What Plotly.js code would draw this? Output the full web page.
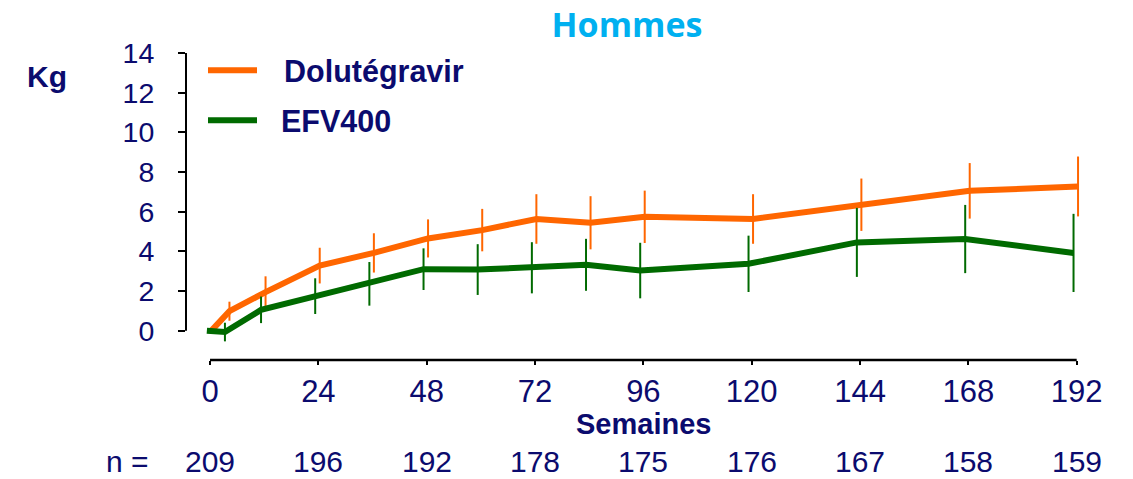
<!DOCTYPE html>
<html>
<head>
<meta charset="utf-8">
<script src="https://cdn.plot.ly/plotly-3.0.1.min.js"></script>
<style>html,body{margin:0;padding:0;background:#fff;}#chart{width:1133px;height:479px;}</style>
</head>
<body>
<div id="chart"></div>
<script>
// ---- data ----
const weeks = [0, 4, 12, 24, 36, 48, 60, 72, 84, 96, 120, 144, 168, 192];
const dtgValues = [0, 0.98, 1.94, 3.28, 3.92, 4.65, 5.07, 5.63, 5.44, 5.74, 5.63, 6.35, 7.05, 7.27];
const dtgErrors = [null, 0.48, 0.80, 0.90, 0.99, 0.96, 1.07, 1.25, 1.34, 1.32, 1.25, 1.32, 1.40, 1.51];
const efvValues = [0, -0.07, 1.05, 1.74, 2.36, 3.10, 3.08, 3.17, 3.32, 3.03, 3.37, 4.45, 4.62, 3.92];
const efvErrors = [null, 0.47, 0.67, 0.90, 1.10, 1.05, 1.28, 1.29, 1.31, 1.40, 1.42, 1.74, 1.72, 1.97];
const xTicks = [0, 24, 48, 72, 96, 120, 144, 168, 192];
const nValues = ["209", "196", "192", "178", "175", "176", "167", "158", "159"];
const yTicks = [0, 2, 4, 6, 8, 10, 12, 14];
const seriesNames = ["Dolutégravir", "EFV400"];

// ---- style ----
const W = 1133, H = 479;
const plotL = 186, plotR = 1086, plotT = 52.7, plotB = 360;
const navy = "#0b0b6e";
const orange = "#ff6600";
const green = "#006a00";
const font = "Liberation Sans, Arial, sans-serif";
const dodge = [0.3, -0.7];
const px2xp = px => (px - plotL) / (plotR - plotL);
const py2yp = py => (plotB - py) / (plotB - plotT);

const traces = [
  {
    x: weeks.map(w => w + dodge[0]), y: dtgValues, name: seriesNames[0], mode: "lines",
    line: {color: orange, width: 6},
    error_y: {type: "data", array: dtgErrors, visible: true, color: orange, thickness: 2, width: 0},
    showlegend: false
  },
  {
    x: weeks.map(w => w + dodge[1]), y: efvValues, name: seriesNames[1], mode: "lines",
    line: {color: green, width: 6},
    error_y: {type: "data", array: efvErrors, visible: true, color: green, thickness: 2, width: 0},
    showlegend: false
  }
];

const annotations = [];
xTicks.forEach((t, i) => {
  annotations.push({x: t, xref: "x", y: py2yp(462), yref: "paper", text: nValues[i],
    showarrow: false, xanchor: "center", yanchor: "middle", borderpad: 0,
    font: {family: font, size: 30, color: navy}});
});
annotations.push({x: px2xp(127), xref: "paper", y: py2yp(462), yref: "paper", text: "n =",
  showarrow: false, xanchor: "center", yanchor: "middle", borderpad: 0, font: {family: font, size: 30, color: navy}});
annotations.push({x: 96, xref: "x", y: py2yp(424), yref: "paper", text: "<b>Semaines</b>",
  showarrow: false, xanchor: "center", yanchor: "middle", font: {family: font, size: 29, color: navy}});
annotations.push({x: px2xp(46.7), xref: "paper", y: py2yp(76.5), yref: "paper", text: "<b>Kg</b>",
  showarrow: false, xanchor: "center", yanchor: "middle", font: {family: font, size: 30, color: navy}});
annotations.push({x: px2xp(282), xref: "paper", y: py2yp(71.7), yref: "paper", text: "<b>" + seriesNames[0] + "</b>",
  showarrow: false, xanchor: "left", yanchor: "middle", font: {family: font, size: 30.5, color: navy}});
annotations.push({x: px2xp(279), xref: "paper", y: py2yp(121), yref: "paper", text: "<b>" + seriesNames[1] + "</b>",
  showarrow: false, xanchor: "left", yanchor: "middle", font: {family: font, size: 30.5, color: navy}});

const shapes = [
  {type: "line", xref: "paper", yref: "y", x0: 0, x1: 0, y0: 0, y1: 14, line: {color: "#000", width: 2}},
  {type: "line", xref: "x", yref: "paper", x0: 0, x1: 192, y0: 0, y1: 0, line: {color: "#000", width: 2.5}},
  {type: "line", xref: "paper", yref: "paper", x0: px2xp(208), x1: px2xp(257), y0: py2yp(70), y1: py2yp(70), line: {color: orange, width: 6}},
  {type: "line", xref: "paper", yref: "paper", x0: px2xp(208), x1: px2xp(257), y0: py2yp(120), y1: py2yp(120), line: {color: green, width: 6}}
];

const layout = {
  width: W, height: H,
  margin: {l: plotL, r: W - plotR, t: plotT, b: H - plotB, pad: 0},
  paper_bgcolor: "#fff", plot_bgcolor: "#fff",
  title: {text: "<b>Hommes</b>", x: 627 / W, xref: "container", xanchor: "center",
    y: 1 - 25.5 / H, yref: "container", yanchor: "middle",
    font: {family: "Open Sans, sans-serif", size: 34, color: "#00b0f0"}},
  xaxis: {range: [(plotL - 210) / 4.508, 192 + (plotR - 1076.7) / 4.508], tickvals: xTicks, ticktext: xTicks.map(String),
    showgrid: false, zeroline: false, showline: false, ticks: "outside", ticklen: 4, tickwidth: 2, tickcolor: "#000",
    tickfont: {family: font, size: 31, color: navy}, ticklabelstandoff: 0, fixedrange: true},
  yaxis: {range: [-1.48, 14], tickvals: yTicks, ticktext: yTicks.map(String),
    showgrid: false, zeroline: false, showline: false, ticks: "outside", ticklen: 7, tickwidth: 2, tickcolor: "#000",
    tickfont: {family: font, size: 28.5, color: navy}, ticklabelstandoff: 18, ticklabelshift: -2.5, fixedrange: true},
  annotations: annotations,
  shapes: shapes,
  showlegend: false
};

Plotly.newPlot("chart", traces, layout, {displayModeBar: false, staticPlot: true});
</script>
</body>
</html>
